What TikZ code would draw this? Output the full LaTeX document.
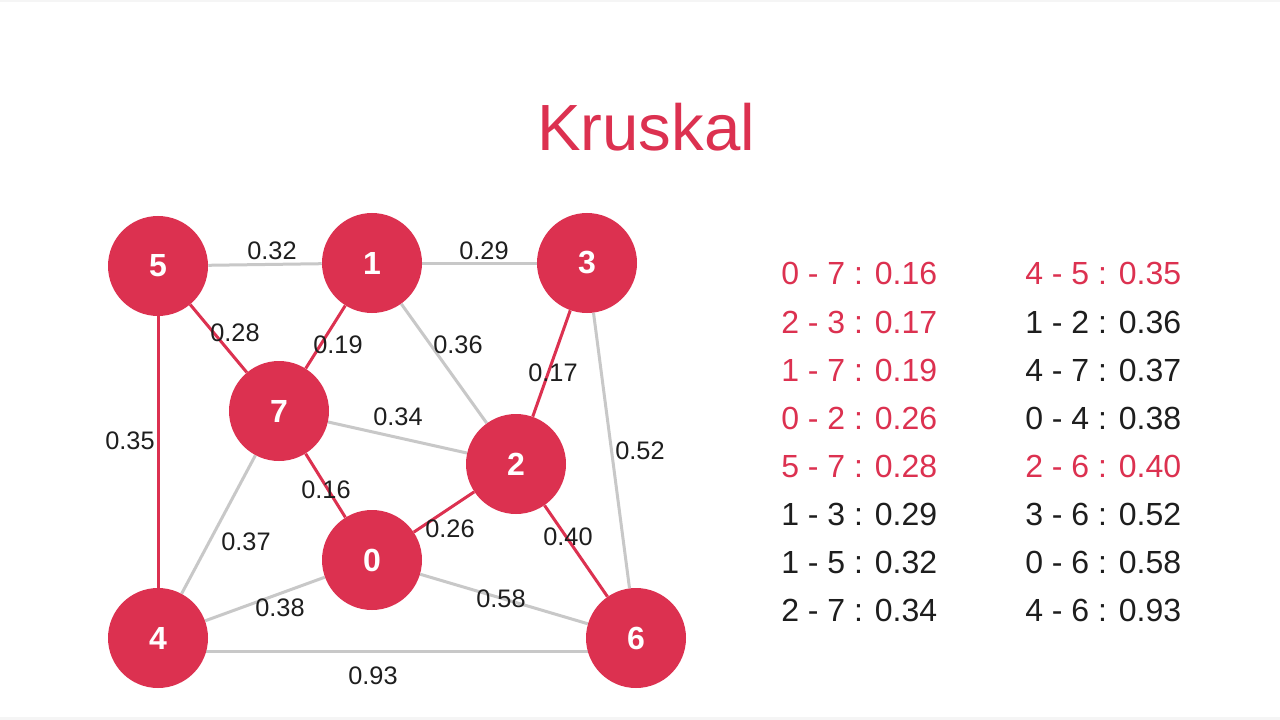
\documentclass[tikz,border=0pt]{standalone}
\usepackage{fontspec}
\setmainfont{Liberation Sans}
\definecolor{kred}{RGB}{220,49,80}
\definecolor{kgray}{RGB}{200,200,200}
\definecolor{ktext}{RGB}{30,30,30}
\pgfdeclarelayer{background}
\pgfdeclarelayer{edges}
\pgfsetlayers{background,edges,main}
\begin{document}
\begin{tikzpicture}[x=0.75pt,y=-0.75pt,
  vertex/.style={circle, fill=kred, minimum size=75pt, inner sep=0pt, text=white,
    font=\fontsize{24}{24}\selectfont\bfseries},
  tree/.style={draw=kred, line width=2.25pt},
  spare/.style={draw=kgray, line width=2.25pt},
  weight/.style={font=\fontsize{19}{19}\selectfont, text=ktext, inner sep=0pt},
  listred/.style={anchor=west, font=\fontsize{24}{24}\selectfont, text=kred, inner sep=0pt},
  listblack/.style={listred, text=ktext}]

% page
\begin{pgfonlayer}{background}
  \fill[white] (0,0) rectangle (1280,720);
  \fill[black!4] (0,0) rectangle (1280,2);
  \fill[black!4] (0,717) rectangle (1280,720);
\end{pgfonlayer}
\useasboundingbox (0,0) rectangle (1280,720);

% title
\node[font=\fontsize{49}{49}\selectfont, text=kred] (title) at (646,127) {Kruskal};

% vertices
\node[vertex] (v5) at (158,266) {5};
\node[vertex] (v1) at (372,263) {1};
\node[vertex] (v3) at (587,263) {3};
\node[vertex] (v7) at (279,411) {7};
\node[vertex] (v2) at (516,464) {2};
\node[vertex] (v0) at (372,560) {0};
\node[vertex] (v4) at (158,638) {4};
\node[vertex] (v6) at (636,638) {6};

% edges
\begin{pgfonlayer}{edges}
  \draw[spare] (v5) -- (v1);
  \draw[spare] (v1) -- (v3);
  \draw[spare] (v1) -- (v2);
  \draw[spare] (v7) -- (v2);
  \draw[spare] (v7) -- (v4);
  \draw[spare] (v0) -- (v4);
  \draw[spare] (v0) -- (v6);
  \draw[spare] (v3) -- (v6);
  \draw[spare] (v4.-16) -- (v6.196);
  \draw[tree] (v5) -- (v7);
  \draw[tree] (v1) -- (v7);
  \draw[tree] (v3) -- (v2);
  \draw[tree] (v7) -- (v0);
  \draw[tree] (v0) -- (v2);
  \draw[tree] (v2) -- (v6);
  \draw[tree] (v5) -- (v4);
\end{pgfonlayer}

% edge weights
\node[weight] (w15) at (272,251) {0.32};
\node[weight] (w13) at (484,251) {0.29};
\node[weight] (w57) at (235,333) {0.28};
\node[weight] (w17) at (338,345) {0.19};
\node[weight] (w12) at (458,345) {0.36};
\node[weight] (w23) at (553,373) {0.17};
\node[weight] (w45) at (130,441) {0.35};
\node[weight] (w27) at (398,417) {0.34};
\node[weight] (w36) at (640,451) {0.52};
\node[weight] (w07) at (326,490) {0.16};
\node[weight] (w02) at (450,529) {0.26};
\node[weight] (w47) at (246,542) {0.37};
\node[weight] (w26) at (568,537) {0.40};
\node[weight] (w04) at (280,608) {0.38};
\node[weight] (w06) at (501,599) {0.58};
\node[weight] (w46) at (373,676) {0.93};

% sorted edge list
\node[listred]   (l1)  at (781,273) {0 - 7 : 0.16};
\node[listred]   (l2)  at (781,322) {2 - 3 : 0.17};
\node[listred]   (l3)  at (781,370) {1 - 7 : 0.19};
\node[listred]   (l4)  at (781,418) {0 - 2 : 0.26};
\node[listred]   (l5)  at (781,466) {5 - 7 : 0.28};
\node[listblack] (l6)  at (781,514) {1 - 3 : 0.29};
\node[listblack] (l7)  at (781,562) {1 - 5 : 0.32};
\node[listblack] (l8)  at (781,610) {2 - 7 : 0.34};
\node[listred]   (l9)  at (1025,273) {4 - 5 : 0.35};
\node[listblack] (l10) at (1025,322) {1 - 2 : 0.36};
\node[listblack] (l11) at (1025,370) {4 - 7 : 0.37};
\node[listblack] (l12) at (1025,418) {0 - 4 : 0.38};
\node[listred]   (l13) at (1025,466) {2 - 6 : 0.40};
\node[listblack] (l14) at (1025,514) {3 - 6 : 0.52};
\node[listblack] (l15) at (1025,562) {0 - 6 : 0.58};
\node[listblack] (l16) at (1025,610) {4 - 6 : 0.93};
\end{tikzpicture}
\end{document}
